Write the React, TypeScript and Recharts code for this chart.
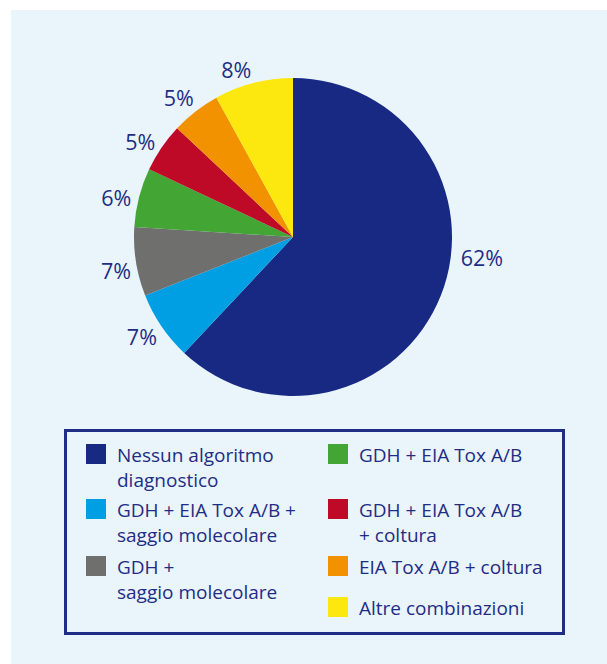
import { Cell, Legend, Pie, PieChart } from "recharts"

const categories = [
  "Nessun algoritmo diagnostico",
  "GDH + EIA Tox A/B + saggio molecolare",
  "GDH + saggio molecolare",
  "GDH + EIA Tox A/B",
  "GDH + EIA Tox A/B + coltura",
  "EIA Tox A/B + coltura",
  "Altre combinazioni",
]

// line breaks as printed in the legend box
const legendLines = [
  ["Nessun algoritmo", "diagnostico"],
  ["GDH + EIA Tox A/B +", "saggio molecolare"],
  ["GDH +", "saggio molecolare"],
  ["GDH + EIA Tox A/B"],
  ["GDH + EIA Tox A/B", "+ coltura"],
  ["EIA Tox A/B + coltura"],
  ["Altre combinazioni"],
]

const shares = [62, 7, 7, 6, 5, 5, 8]

const colors = ["#172983", "#009fe3", "#6f6f6e", "#43a534", "#be0a27", "#f39200", "#fce80e"]

const data = categories.map((name, i) => ({ name, value: shares[i] }))

const TEXT = "#1f2d84"
const FONT = "'Open Sans', sans-serif"
const RAD = Math.PI / 180

// small hand nudges of the label angle (degrees), as in the printed figure
const labelNudge = [15.3, -0.8, 1.7, 1.9, 2.2, 1.6, 4.3]
const labelGap = [31, 22, 21, 22, 21, 21, 18]

const renderLabel = (props: any) => {
  const { cx, cy, midAngle, outerRadius, value, index } = props
  const angle = midAngle + labelNudge[index]
  const r = outerRadius + labelGap[index]
  const x = cx + r * Math.cos(-angle * RAD)
  const y = cy + r * Math.sin(-angle * RAD)
  return (
    <text x={x} y={y} fill={TEXT} fontSize={21.5} fontFamily={FONT} textAnchor="middle" dominantBaseline="central">
      {`${value}%`}
    </text>
  )
}

const renderLegend = (props: any) => {
  const payload = props.payload || []
  return (
    <div
      style={{
        boxSizing: "border-box",
        width: 501,
        height: 206,
        border: `3px solid ${TEXT}`,
        padding: "11px 0 0 19px",
        display: "grid",
        gridTemplateColumns: "242px 220px",
        gridTemplateRows: "55px 57px 41px 25px",
        fontFamily: FONT,
        fontSize: 19,
        lineHeight: "25px",
        color: TEXT,
        textAlign: "left",
      }}
    >
      {categories.map((name, i) => {
        const entry = payload.find((p: any) => p.value === name)
        return (
          <div
            key={name}
            style={{
              display: "flex",
              alignItems: "flex-start",
              gridColumn: i < 3 ? 1 : 2,
              gridRow: i < 3 ? i + 1 : i - 2,
              whiteSpace: "nowrap",
            }}
          >
            <span
              style={{
                width: 20,
                height: 20,
                marginTop: 1,
                marginRight: 11,
                flex: "none",
                background: (entry && entry.color) || colors[i],
              }}
            />
            <span>
              {legendLines[i].map((l) => (
                <div key={l}>{l}</div>
              ))}
            </span>
          </div>
        )
      })}
    </div>
  )
}

export default function App() {
  return (
    <div style={{ position: "absolute", left: 0, top: 0, width: 607, height: 664, background: "#ffffff" }}>
      <div style={{ position: "absolute", left: 11, top: 10, width: 596, height: 654, background: "#e9f4fb" }}>
        <PieChart width={596} height={654} margin={{ top: 0, right: 0, bottom: 0, left: 0 }}>
          <Pie
            data={data}
            dataKey="value"
            nameKey="name"
            cx={282}
            cy={227}
            outerRadius={159}
            startAngle={90}
            endAngle={-270}
            stroke="none"
            label={renderLabel}
            labelLine={false}
            isAnimationActive={false}
          >
            {data.map((d, i) => (
              <Cell key={d.name} fill={colors[i]} />
            ))}
          </Pie>
          <Legend content={renderLegend} wrapperStyle={{ left: 53, top: 419, width: 501, bottom: "auto" }} />
        </PieChart>
      </div>
    </div>
  )
}
